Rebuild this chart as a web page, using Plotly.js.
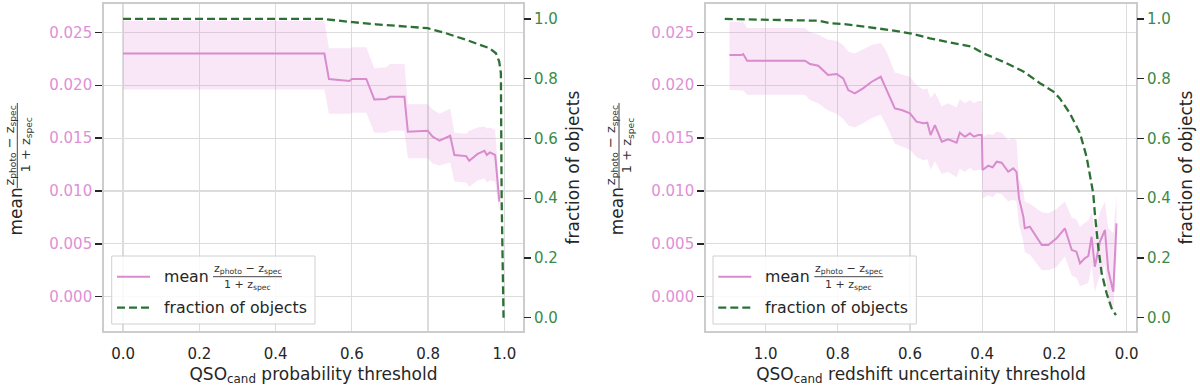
<!DOCTYPE html>
<html>
<head>
<meta charset="utf-8">
<script src="https://cdn.plot.ly/plotly-3.0.1.min.js"></script>
<style>
  html, body { margin: 0; padding: 0; background: #fff; }
  #chart { width: 1200px; height: 389px; }
</style>
</head>
<body>
<div id="chart"></div>
<script>
// left panel: QSO_cand probability threshold
const probThreshold = [0.0, 0.528, 0.54, 0.594, 0.60, 0.638, 0.659, 0.69, 0.70, 0.738, 0.747, 0.799, 0.812, 0.83, 0.858, 0.869, 0.90, 0.908, 0.93, 0.948, 0.954, 0.962, 0.976, 0.987];
const probMean  = [0.0230, 0.0230, 0.02058, 0.0204, 0.0206, 0.0206, 0.01866, 0.0187, 0.0189, 0.0189, 0.0156, 0.0157, 0.01513, 0.01475, 0.01522, 0.0134, 0.0133, 0.01286, 0.0135, 0.0138, 0.0134, 0.01365, 0.0134, 0.0090];
const probUpper = [0.0261, 0.0261, 0.0235, 0.0235, 0.0236, 0.0236, 0.0216, 0.0217, 0.0220, 0.0220, 0.0182, 0.0182, 0.0177, 0.0173, 0.0178, 0.0155, 0.0154, 0.0157, 0.0160, 0.0161, 0.0159, 0.0160, 0.0158, 0.0100];
const probLower = [0.0196, 0.0196, 0.0173, 0.0173, 0.0174, 0.0174, 0.0155, 0.0155, 0.0157, 0.0157, 0.0131, 0.0131, 0.0126, 0.0124, 0.0127, 0.0109, 0.0108, 0.0104, 0.0110, 0.0112, 0.0108, 0.0110, 0.0109, 0.0080];
const probFracX = [0.0, 0.524, 0.603, 0.664, 0.799, 0.847, 0.90, 0.961, 0.978, 0.9866, 0.991, 0.993, 0.998];
const probFraction = [1.0, 1.0, 0.989, 0.982, 0.969, 0.952, 0.930, 0.902, 0.885, 0.857, 0.818, 0.394, 0.0];

// right panel: QSO_cand redshift uncertainty threshold
const zerrThreshold = [1.10, 1.067, 1.062, 1.051, 0.891, 0.877, 0.854, 0.827, 0.803, 0.785, 0.771, 0.753, 0.730, 0.706, 0.681, 0.665, 0.642, 0.623, 0.600, 0.582, 0.563, 0.552, 0.543, 0.531, 0.512, 0.494, 0.471, 0.462, 0.448, 0.434, 0.423, 0.411, 0.401, 0.399, 0.383, 0.371, 0.360, 0.346, 0.328, 0.314, 0.305, 0.298, 0.286, 0.282, 0.268, 0.235, 0.217, 0.194, 0.171, 0.152, 0.139, 0.129, 0.116, 0.106, 0.097, 0.088, 0.074, 0.060, 0.051, 0.037, 0.028];
const zerrMean  = [0.02285, 0.02285, 0.02295, 0.02232, 0.02232, 0.0220, 0.02185, 0.02096, 0.02106, 0.02065, 0.01954, 0.01923, 0.0197, 0.02033, 0.0208, 0.01954, 0.01781, 0.01765, 0.01734, 0.01655, 0.0164, 0.01646, 0.01529, 0.01623, 0.01466, 0.01488, 0.01456, 0.01551, 0.01513, 0.01545, 0.01513, 0.01529, 0.0153, 0.01198, 0.01239, 0.01223, 0.01277, 0.01267, 0.01182, 0.01214, 0.0118, 0.0093, 0.00756, 0.00647, 0.00662, 0.00489, 0.0049, 0.00552, 0.00647, 0.00442, 0.00426, 0.00316, 0.00363, 0.00385, 0.00567, 0.00284, 0.0052, 0.00631, 0.00252, 0.00047, 0.00694];
const zerrUpper = [0.0260, 0.0260, 0.0260, 0.0254, 0.0254, 0.0250, 0.0248, 0.0243, 0.0242, 0.0238, 0.0232, 0.0230, 0.0234, 0.0238, 0.0240, 0.0232, 0.0212, 0.0210, 0.0208, 0.0200, 0.0196, 0.0197, 0.0188, 0.0193, 0.0180, 0.0183, 0.0179, 0.0187, 0.0183, 0.0186, 0.0183, 0.0185, 0.0185, 0.0151, 0.0154, 0.0153, 0.0156, 0.0155, 0.0148, 0.0150, 0.0148, 0.0112, 0.0100, 0.0090, 0.0088, 0.0080, 0.0079, 0.0083, 0.0090, 0.0075, 0.0073, 0.0066, 0.0070, 0.0072, 0.0080, 0.0062, 0.0080, 0.0090, 0.0065, 0.0060, 0.0096];
const zerrLower = [0.01954, 0.0195, 0.0195, 0.0191, 0.0191, 0.0186, 0.0183, 0.0176, 0.0173, 0.0168, 0.0162, 0.0160, 0.0164, 0.0169, 0.0172, 0.0162, 0.0145, 0.0142, 0.0139, 0.0132, 0.0129, 0.0130, 0.0120, 0.0128, 0.0116, 0.0118, 0.0113, 0.0121, 0.0118, 0.0122, 0.0119, 0.0120, 0.0120, 0.0093, 0.0096, 0.0094, 0.0098, 0.0097, 0.0090, 0.0092, 0.0090, 0.0068, 0.0052, 0.0042, 0.0040, 0.0025, 0.0025, 0.0028, 0.0038, 0.0020, 0.0018, 0.0010, 0.0012, 0.0013, 0.0030, 0.0005, 0.0020, 0.0030, -0.0005, -0.0015, 0.0040];
const zerrFracX = [1.113, 0.896, 0.854, 0.822, 0.785, 0.656, 0.600, 0.545, 0.480, 0.429, 0.397, 0.342, 0.286, 0.240, 0.203, 0.185, 0.157, 0.129, 0.111, 0.0925, 0.088, 0.0787, 0.069, 0.0554, 0.0416, 0.0296];
const zerrFraction = [1.0, 0.997, 0.994, 0.986, 0.983, 0.963, 0.952, 0.935, 0.919, 0.907, 0.885, 0.857, 0.824, 0.785, 0.757, 0.734, 0.684, 0.617, 0.539, 0.4165, 0.3495, 0.2377, 0.1486, 0.0817, 0.0315, 0.009];

const thresholdTicks = [0, 0.2, 0.4, 0.6, 0.8, 1.0];
const meanTicks = [0, 0.005, 0.01, 0.015, 0.02, 0.025];
const fractionTicks = [0, 0.2, 0.4, 0.6, 0.8, 1.0];

const PINK = "#d88bcd";
const PINK_TXT = "#e08fd6";
const FILL = "rgba(218,112,214,0.17)";
const GREEN = "#2c7034";
const GREEN_TXT = "#3a8a47";
const TEXT = "#262626";

const W = 1200, H = 389;
const px = (v) => v / W;
const py = (v) => 1 - v / H;

function panel(x, mean, lo, hi, fx, frac, xa, ya, ya2) {
  return [
    { x, y: hi, type: "scatter", mode: "lines", line: { width: 0, color: FILL }, xaxis: xa, yaxis: ya, hoverinfo: "skip" },
    { x, y: lo, type: "scatter", mode: "lines", line: { width: 0, color: FILL }, fill: "tonexty", fillcolor: FILL, xaxis: xa, yaxis: ya, hoverinfo: "skip" },
    { x, y: mean, type: "scatter", mode: "lines", line: { color: PINK, width: 2 }, xaxis: xa, yaxis: ya },
    { x: fx, y: frac, type: "scatter", mode: "lines", line: { color: GREEN, width: 2.3, dash: "8px,4px" }, xaxis: xa, yaxis: ya2 },
  ];
}

const traces = [
  ...panel(probThreshold, probMean, probLower, probUpper, probFracX, probFraction, "x", "y", "y2"),
  ...panel(zerrThreshold, zerrMean, zerrLower, zerrUpper, zerrFracX, zerrFraction, "x2", "y3", "y4"),
];

const yDom = [py(331), py(4)];
const frame = {
  showline: true, mirror: true, linecolor: "#cccccc", linewidth: 1.8,
  gridcolor: "#dcdcdc", gridwidth: 1.2, zeroline: false,
};
const xBase = {
  ...frame,
  tickvals: thresholdTicks, tickformat: ".1f",
  ticks: "outside", ticklen: 8, tickcolor: "rgba(0,0,0,0)",
  tickfont: { size: 15, color: TEXT },
};
const yMeanBase = {
  ...frame, domain: yDom, range: [-0.00324, 0.02768],
  tickvals: meanTicks, tickformat: ".3f",
  ticks: "outside", ticklen: 7, tickwidth: 1.3, tickcolor: TEXT,
  tickfont: { size: 15, color: PINK_TXT },
};
const yFracBase = {
  side: "right", range: [-0.0445, 1.050],
  tickvals: fractionTicks, tickformat: ".1f",
  ticks: "outside", ticklen: 7, tickwidth: 1.3, tickcolor: TEXT,
  tickfont: { size: 15, color: GREEN_TXT },
  showgrid: false, zeroline: false, showline: false,
  title: { text: "fraction of objects", font: { size: 17, color: TEXT }, standoff: 10 },
};

const shapes = [];
const annotations = [];

function legendParts(dx) {
  shapes.push({ type: "rect", xref: "paper", yref: "paper", layer: "above",
    x0: px(111.7 + dx), x1: px(315 + dx), y0: py(324), y1: py(256),
    fillcolor: "rgba(255,255,255,0.85)", line: { color: "#d0d0d0", width: 1 } });
  shapes.push({ type: "line", xref: "paper", yref: "paper", layer: "above",
    x0: px(117 + dx), x1: px(150 + dx), y0: py(276.7), y1: py(276.7),
    line: { color: PINK, width: 2 } });
  shapes.push({ type: "line", xref: "paper", yref: "paper", layer: "above",
    x0: px(117 + dx), x1: px(150 + dx), y0: py(307.7), y1: py(307.7),
    line: { color: GREEN, width: 2.3, dash: "8px,4px" } });
  shapes.push({ type: "line", xref: "paper", yref: "paper", layer: "above",
    x0: px(213 + dx), x1: px(282 + dx), y0: py(276.7), y1: py(276.7),
    line: { color: "#444", width: 1 } });
  const a = { xref: "paper", yref: "paper", showarrow: false, font: { size: 15.8, color: TEXT } };
  annotations.push({ ...a, text: "mean", x: px(162 + dx), y: py(276), xanchor: "left", yanchor: "middle" });
  annotations.push({ ...a, text: "fraction of objects", x: px(162 + dx), y: py(307.7), xanchor: "left", yanchor: "middle" });
  annotations.push({ ...a, font: { size: 11, color: "#333" }, text: "z<sub>photo</sub> − z<sub>spec</sub>", x: px(247.5 + dx), y: py(268.5), xanchor: "center", yanchor: "middle" });
  annotations.push({ ...a, font: { size: 11, color: "#333" }, text: "1 + z<sub>spec</sub>", x: px(247 + dx), y: py(285), xanchor: "center", yanchor: "middle" });
}

function ylabelParts(dx) {
  const a = { xref: "paper", yref: "paper", showarrow: false, textangle: -90, xanchor: "center", yanchor: "middle" };
  annotations.push({ ...a, text: "mean", font: { size: 17, color: TEXT }, x: px(15 + dx), y: py(211.5) });
  annotations.push({ ...a, text: "z<sub>photo</sub> − z<sub>spec</sub>", font: { size: 13, color: "#333" }, x: px(10 + dx), y: py(145.5) });
  annotations.push({ ...a, text: "1 + z<sub>spec</sub>", font: { size: 13, color: "#333" }, x: px(26 + dx), y: py(145.5) });
  shapes.push({ type: "line", xref: "paper", yref: "paper",
    x0: px(17.3 + dx), x1: px(17.3 + dx), y0: py(103), y1: py(188),
    line: { color: "#444", width: 1 } });
}

legendParts(0);
legendParts(601.3);
ylabelParts(0);
ylabelParts(601.7);

const layout = {
  width: W, height: H,
  margin: { l: 0, r: 0, t: 0, b: 0 },
  paper_bgcolor: "#ffffff",
  plot_bgcolor: "#ffffff",
  font: { family: "DejaVu Sans", color: TEXT },
  showlegend: false,
  hovermode: false,
  xaxis: {
    ...xBase, domain: [px(104), px(523)], range: [-0.05, 1.049], anchor: "y",
    title: { text: "QSO<sub>cand</sub> probability threshold", font: { size: 17, color: TEXT }, standoff: 6 },
  },
  yaxis: { ...yMeanBase, anchor: "x" },
  yaxis2: { ...yFracBase, overlaying: "y", anchor: "x" },
  xaxis2: {
    ...xBase, domain: [px(706), px(1136)], range: [1.165, -0.026], anchor: "y3",
    title: { text: "QSO<sub>cand</sub> redshift uncertainity threshold", font: { size: 17, color: TEXT }, standoff: 6 },
  },
  yaxis3: { ...yMeanBase, anchor: "x2" },
  yaxis4: { ...yFracBase, overlaying: "y3", anchor: "x2" },
  shapes,
  annotations,
};

Plotly.newPlot("chart", traces, layout, { displayModeBar: false, staticPlot: true });
</script>
</body>
</html>
